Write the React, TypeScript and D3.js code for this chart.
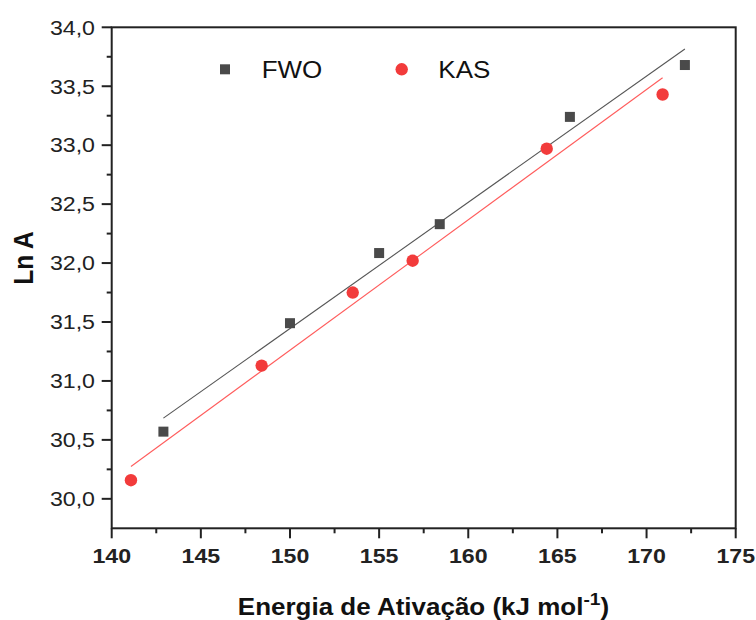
import React from "react";
import * as d3 from "d3";

const fwoX = [142.9, 150.0, 155.0, 158.4, 165.7, 172.15];
const fwoY = [30.57, 31.49, 32.085, 32.33, 33.24, 33.68];
const kasX = [141.08, 148.41, 153.52, 156.88, 164.4, 170.9];
const kasY = [30.158, 31.13, 31.75, 32.02, 32.97, 33.43];

const xTicks = [140, 145, 150, 155, 160, 165, 170, 175];
const yTicks = [30.0, 30.5, 31.0, 31.5, 32.0, 32.5, 33.0, 33.5, 34.0];
const legendLabels = ["FWO", "KAS"];

const W = 756;
const H = 620;
const L = 111.7, R = 735.7, T = 27.3, B = 528.3;
const SX = 1.13;
const FONT = "'Liberation Sans', Arial, Helvetica, sans-serif";

function fit(xs: number[], ys: number[]) {
  const mx = d3.mean(xs)!;
  const my = d3.mean(ys)!;
  let sxy = 0, sxx = 0;
  xs.forEach((x, i) => { sxy += (x - mx) * (ys[i] - my); sxx += (x - mx) * (x - mx); });
  const b = sxy / sxx;
  const a = my - b * mx;
  const x0 = d3.min(xs)!, x1 = d3.max(xs)!;
  return [[x0, a + b * x0], [x1, a + b * x1]] as [number, number][];
}

export default function App() {
  const x = d3.scaleLinear().domain([140, 175]).range([L, R]);
  const y = d3.scaleLinear().domain([29.75, 34]).range([B, T]);
  const line = d3.line<[number, number]>().x(d => x(d[0])).y(d => y(d[1]));
  const fmt = (v: number) => d3.format(".1f")(v).replace(".", ",");
  const xMinor = d3.range(142.5, 175, 5);
  const yMinor = d3.range(30.25, 34, 0.5);
  const fwoFit = fit(fwoX, fwoY);
  const kasFit = fit(kasX, kasY);
  const sq = 10;

  return (
    <svg width={W} height={H} style={{ position: "absolute", left: 0, top: 0 }} fontFamily={FONT}>
      <rect x={0} y={0} width={W} height={H} fill="#fff" />
      {/* fit lines */}
      <path d={line(fwoFit)!} stroke="#555" strokeWidth={1.1} fill="none" />
      <path d={line(kasFit)!} stroke="#ff5c5c" strokeWidth={1.1} fill="none" />
      {/* points */}
      {fwoX.map((v, i) => (
        <rect key={"f" + i} x={x(v) - sq / 2} y={y(fwoY[i]) - sq / 2} width={sq} height={sq} fill="#4a4a4a" />
      ))}
      {kasX.map((v, i) => (
        <circle key={"k" + i} cx={x(v)} cy={y(kasY[i])} r={6.2} fill="#f23b3b" />
      ))}
      {/* frame */}
      <rect x={L} y={T} width={R - L} height={B - T} fill="none" stroke="#222" strokeWidth={2} />
      {/* x ticks */}
      {xTicks.map(t => (
        <g key={"xt" + t}>
          <line x1={x(t)} x2={x(t)} y1={B} y2={B + 10} stroke="#222" strokeWidth={2} />
          <text transform={`translate(${x(t)},563) scale(${SX},1)`} textAnchor="middle" fontSize={20.5} fontWeight="bold" fill="#222">{t}</text>
        </g>
      ))}
      {xMinor.map(t => (
        <line key={"xm" + t} x1={x(t)} x2={x(t)} y1={B} y2={B + 5} stroke="#222" strokeWidth={2} />
      ))}
      {/* y ticks */}
      {yTicks.map(t => (
        <g key={"yt" + t}>
          <line x1={L - 10} x2={L} y1={y(t)} y2={y(t)} stroke="#222" strokeWidth={2} />
          <text transform={`translate(95,${y(t) + 7.3}) scale(${SX},1)`} textAnchor="end" fontSize={20.5} fill="#222">{fmt(t)}</text>
        </g>
      ))}
      {yMinor.map(t => (
        <line key={"ym" + t} x1={L - 5} x2={L} y1={y(t)} y2={y(t)} stroke="#222" strokeWidth={2} />
      ))}
      {/* axis titles */}
      <text transform={`translate(33,258) rotate(-90) scale(1,${SX})`} textAnchor="middle" fontSize={24.5} fontWeight="bold" fill="#111">Ln A</text>
      <text transform={`translate(423.5,615) scale(${SX},1)`} textAnchor="middle" fontSize={23} fontWeight="bold" fill="#111">
        Energia de Ativação (kJ mol<tspan dy={-10} fontSize={17}>-1</tspan><tspan dy={10}>)</tspan>
      </text>
      {/* legend */}
      <rect x={225 - sq / 2} y={69.3 - sq / 2} width={sq} height={sq} fill="#4a4a4a" />
      <text transform={`translate(261.7,77.5) scale(${SX},1)`} fontSize={23} fill="#111">{legendLabels[0]}</text>
      <circle cx={401.7} cy={69.3} r={6.2} fill="#f23b3b" />
      <text transform={`translate(438.3,77.5) scale(${SX},1)`} fontSize={23} fill="#111">{legendLabels[1]}</text>
    </svg>
  );
}
